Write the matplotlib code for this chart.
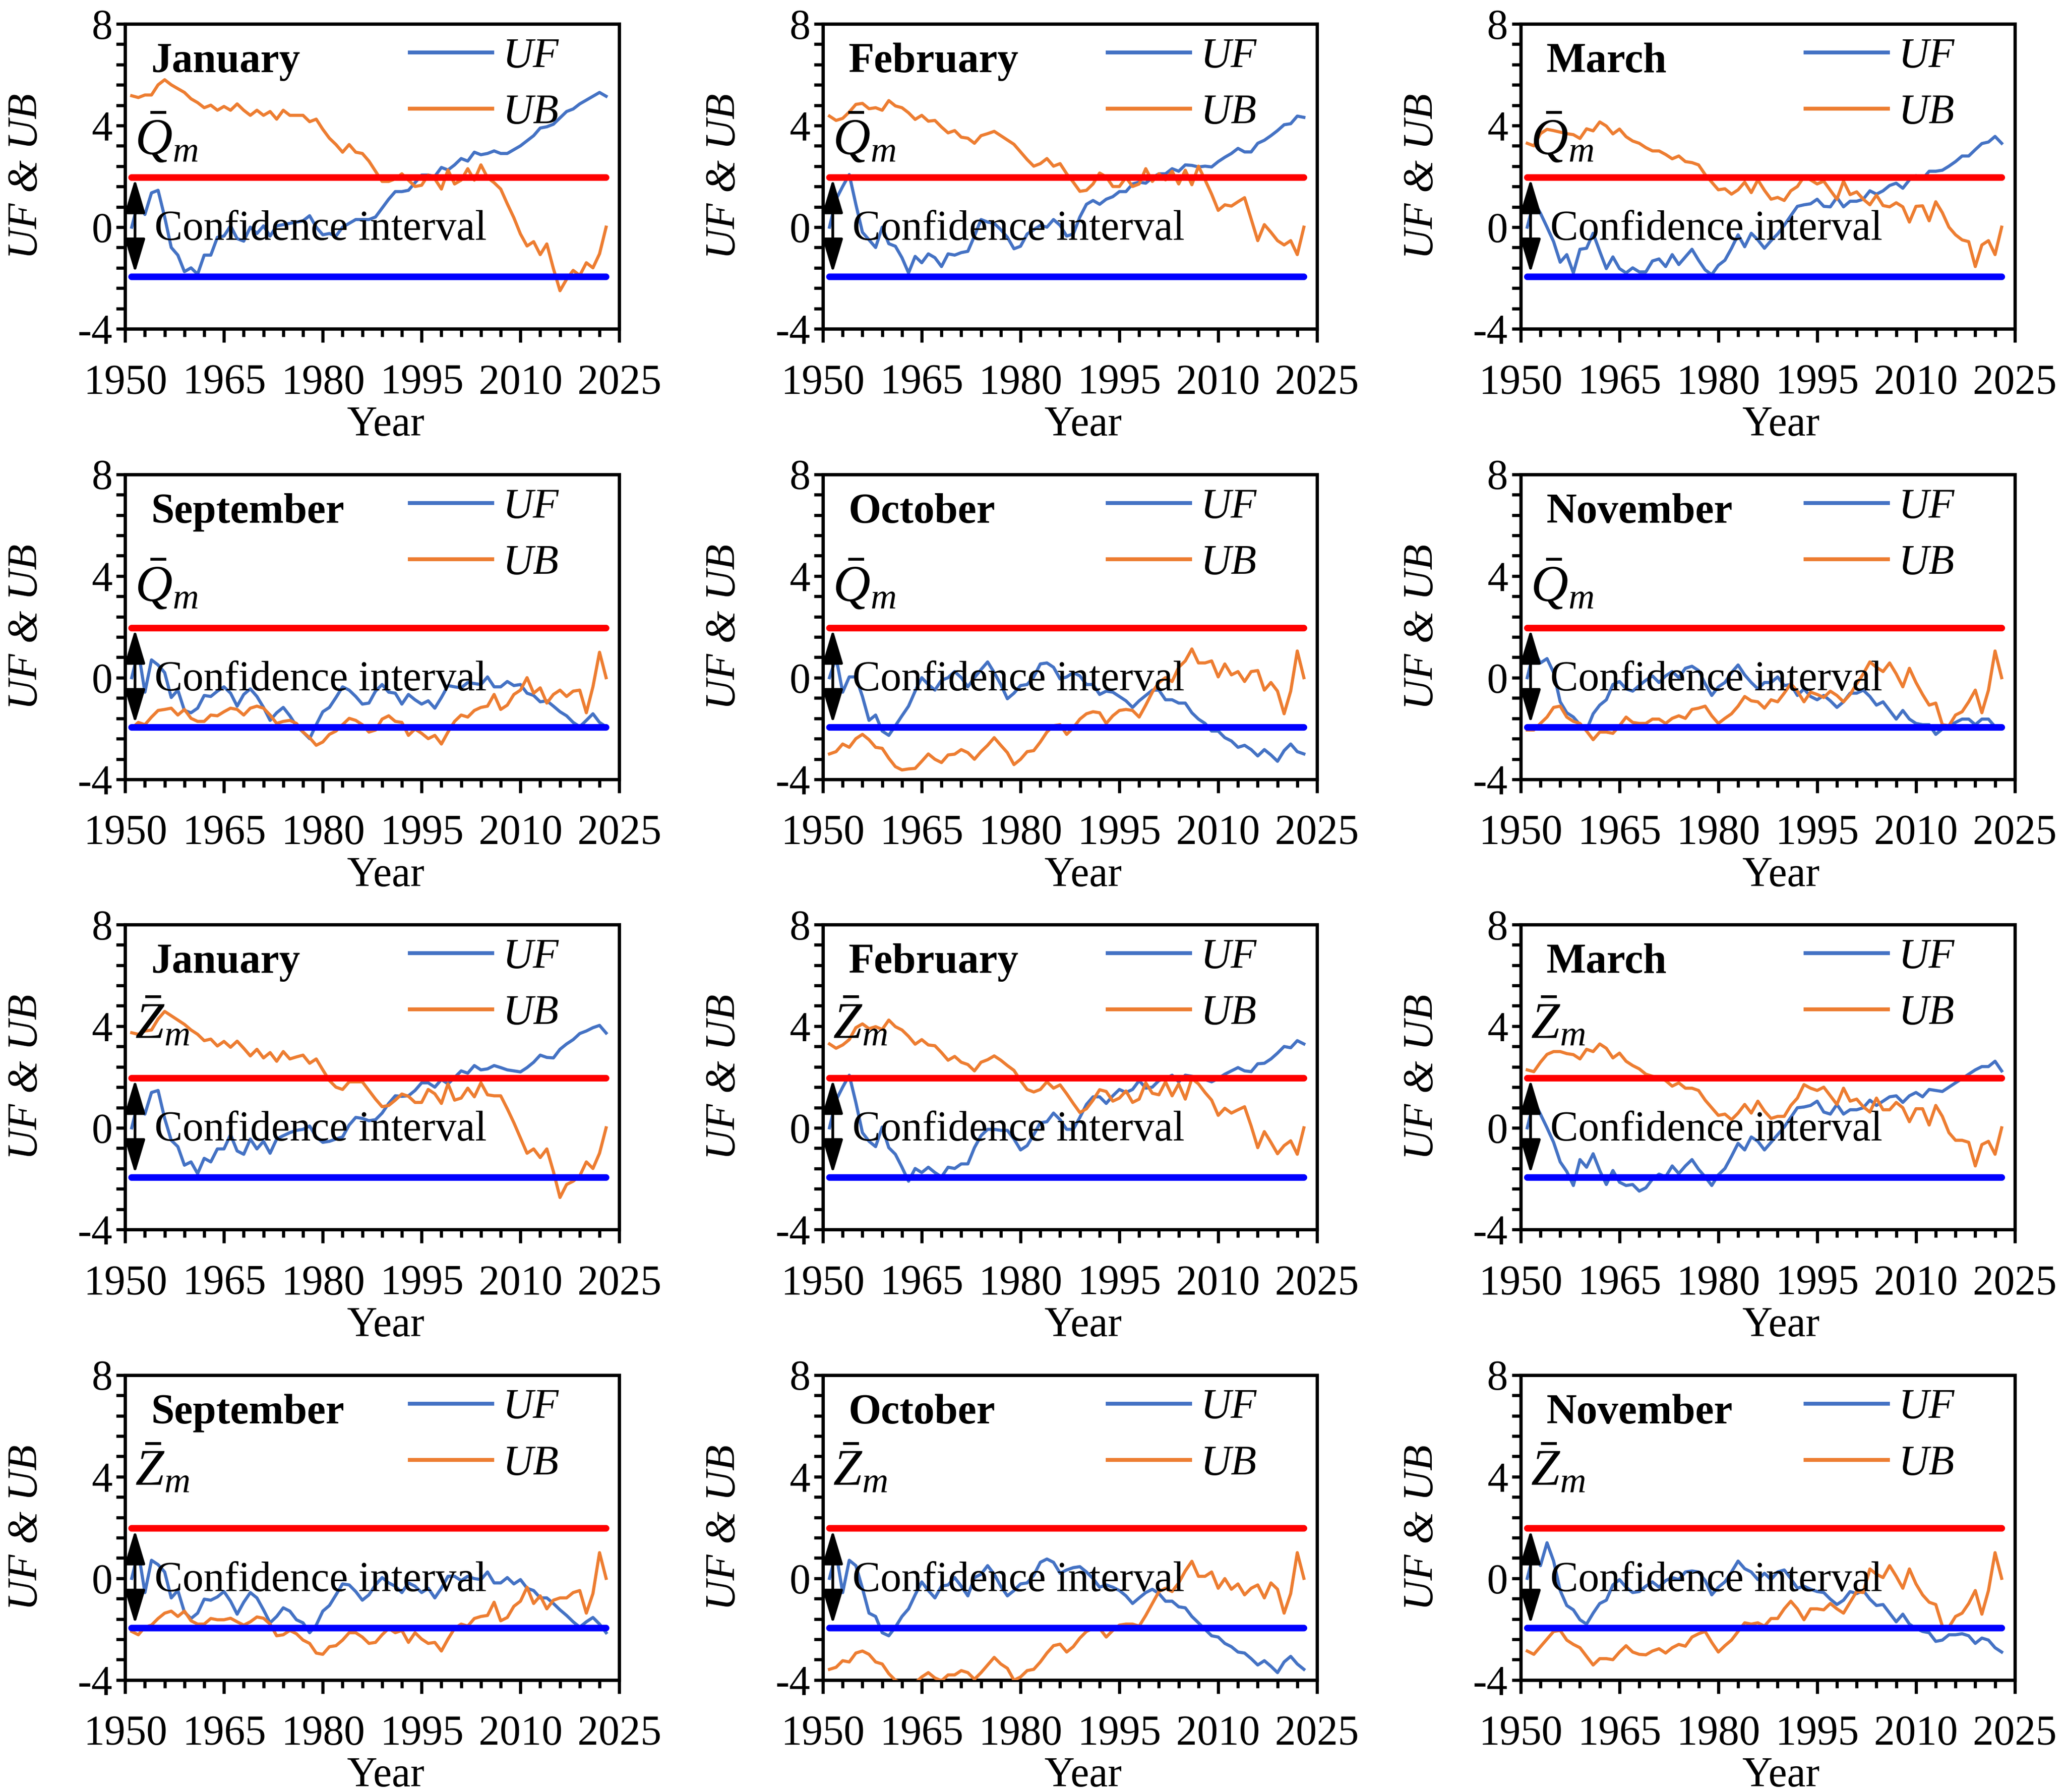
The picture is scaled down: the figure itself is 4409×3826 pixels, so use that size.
import matplotlib.pyplot as plt
from matplotlib.ticker import MultipleLocator
import numpy as np

plt.rcParams['font.family'] = ['Liberation Serif', 'DejaVu Serif']
plt.rcParams['mathtext.fontset'] = 'custom'
plt.rcParams['mathtext.rm'] = 'Liberation Serif'
plt.rcParams['mathtext.it'] = 'Liberation Serif:italic'
plt.rcParams['axes.unicode_minus'] = False

# Mann-Kendall sequential statistics, 1951-2023
jan_q_uf = [0, 1.0, 0.5, 1.35, 1.45, 0.4, -0.8, -1.1, -1.75, -1.6,
            -1.85, -1.1, -1.1, -0.4, -0.35, 0.05, -0.45, -0.55, 0, -0.25,
            0.05, -0.35, 0.05, 0.1, 0.15, 0.2, 0.25, 0.45, 0, -0.3,
            -0.25, -0.35, 0, 0.15, 0.3, 0.3, 0.3, 0.4, 0.75, 1.1,
            1.4, 1.4, 1.45, 1.75, 2.05, 2.05, 2.0, 2.35, 2.25, 2.45,
            2.7, 2.6, 2.95, 2.85, 2.9, 3.0, 2.9, 2.9, 3.05, 3.2,
            3.4, 3.6, 3.9, 3.95, 4.05, 4.3, 4.55, 4.65, 4.85, 5.0,
            5.15, 5.3, 5.15]
jan_q_ub = [5.17, 5.1, 5.2, 5.2, 5.6, 5.8, 5.6, 5.45, 5.3, 5.05,
            4.9, 4.7, 4.8, 4.6, 4.75, 4.6, 4.85, 4.6, 4.4, 4.6,
            4.4, 4.55, 4.25, 4.6, 4.4, 4.4, 4.4, 4.15, 4.25, 3.85,
            3.5, 3.25, 2.95, 3.25, 2.95, 2.9, 2.6, 2.2, 1.8, 1.8,
            1.9, 2.1, 1.85, 1.6, 1.65, 2.05, 1.9, 1.5, 2.25, 1.7,
            1.85, 2.3, 1.85, 2.45, 1.95, 1.75, 1.5, 0.92, 0.37, -0.27,
            -0.74, -0.57, -1.08, -0.66, -1.63, -2.5, -2.05, -1.7, -1.9, -1.4,
            -1.6, -1.05, 0]
feb_q_uf = [0, 1.1, 1.6, 2.07, 0.9, -0.2, -0.5, -0.8, 0, -0.65,
            -0.75, -1.2, -1.8, -1.15, -1.4, -1.05, -1.2, -1.55, -1.05, -1.1,
            -1.0, -0.95, -0.35, 0.3, 0.2, 0.15, -0.1, -0.4, -0.85, -0.75,
            -0.27, -0.1, 0.07, 0, 0.3, 0.07, -0.35, -0.27, 0.4, 0.9,
            1.05, 0.9, 1.1, 1.2, 1.4, 1.4, 1.7, 1.77, 1.73, 1.95,
            2.1, 2.1, 2.3, 2.2, 2.45, 2.43, 2.37, 2.4, 2.37, 2.58,
            2.75, 2.9, 3.1, 2.96, 2.96, 3.3, 3.42, 3.6, 3.8, 4.03,
            4.07, 4.37, 4.32]
feb_q_ub = [4.37, 4.2, 4.28, 4.53, 4.83, 4.87, 4.66, 4.7, 4.6, 4.98,
            4.77, 4.7, 4.5, 4.24, 4.4, 4.17, 4.2, 3.94, 3.71, 3.8,
            3.54, 3.5, 3.3, 3.6, 3.68, 3.77, 3.6, 3.43, 3.26, 2.96,
            2.66, 2.4, 2.5, 2.7, 2.4, 2.5, 2.1, 1.77, 1.41, 1.45,
            1.7, 2.13, 1.98, 1.6, 1.6, 1.96, 1.6, 1.7, 2.3, 1.8,
            2.1, 1.86, 2.2, 1.7, 2.24, 1.67, 2.4, 1.86, 1.3, 0.66,
            0.88, 0.83, 1.0, 1.16, 0.32, -0.53, 0.1, -0.2, -0.53, -0.7,
            -0.53, -1.08, 0]
mar_q_uf = [0, 1.0, 0.55, 0, -0.57, -1.38, -1.08, -1.8, -0.87, -0.83,
            -0.24, -0.95, -1.63, -1.17, -1.63, -1.8, -1.6, -1.76, -1.76, -1.33,
            -1.25, -1.55, -1.08, -1.47, -1.17, -0.87, -1.3, -1.68, -1.87, -1.5,
            -1.3, -0.83, -0.3, -0.77, -0.24, -0.5, -0.83, -0.53, -0.27, 0.07,
            0.45, 0.82, 0.88, 0.92, 1.1, 0.82, 0.8, 1.17, 0.8, 1.02,
            1.02, 1.1, 1.43, 1.3, 1.43, 1.64, 1.73, 1.53, 1.86, 2.03,
            1.9, 2.2, 2.2, 2.24, 2.4, 2.58, 2.8, 2.8, 3.05, 3.29,
            3.35, 3.57, 3.3]
mar_q_ub = [3.3, 3.2, 3.68, 3.85, 3.8, 3.74, 3.68, 3.64, 3.49, 3.87,
            3.79, 4.14, 3.98, 3.67, 3.86, 3.56, 3.39, 3.3, 3.13, 3.0,
            3.0, 2.86, 2.69, 2.8, 2.58, 2.54, 2.45, 2.07, 1.77, 1.47,
            1.51, 1.3, 1.47, 1.77, 1.36, 1.86, 1.45, 1.1, 1.17, 1.05,
            1.43, 1.6, 1.98, 1.86, 1.7, 1.81, 1.45, 1.1, 1.81, 1.28,
            1.39, 1.1, 0.88, 1.26, 0.85, 0.8, 0.96, 0.8, 0.2, 0.82,
            0.84, 0.25, 1.0, 0.57, 0, -0.3, -0.5, -0.57, -1.55, -0.7,
            -0.53, -1.08, 0]
sep_q_uf = [0, 1.05, -0.57, 0.7, 0.5, 0.2, -0.78, -0.49, -1.29, -1.38,
            -1.2, -0.7, -0.74, -0.53, -0.36, -0.61, -1.12, -0.66, -0.44, -0.74,
            -1.17, -1.68, -1.38, -1.17, -1.5, -1.9, -2.14, -2.4, -1.85, -1.34,
            -1.17, -0.78, -0.36, -0.49, -0.74, -1.04, -1.0, -0.53, -0.27, -0.57,
            -0.61, -1.04, -0.66, -0.87, -1.04, -0.91, -1.2, -0.78, -0.31, -0.36,
            -0.4, -0.19, -0.23, -0.27, 0.03, -0.36, -0.36, -0.15, -0.31, -0.27,
            -0.61, -0.7, -0.95, -0.91, -1.12, -1.34, -1.5, -1.76, -1.93, -1.68,
            -1.42, -1.76, -1.93]
sep_q_ub = [-2.0, -1.76, -1.85, -1.55, -1.29, -1.25, -1.2, -1.47, -1.25, -1.6,
            -1.72, -1.72, -1.47, -1.5, -1.34, -1.2, -1.25, -1.47, -1.2, -1.12,
            -1.2, -1.47, -1.8, -1.72, -1.68, -1.8, -2.14, -2.36, -2.66, -2.53,
            -2.23, -2.1, -1.85, -1.6, -1.68, -1.85, -2.14, -2.06, -1.63, -1.5,
            -1.72, -1.76, -2.27, -2.02, -2.19, -2.4, -2.27, -2.61, -2.14, -1.72,
            -1.47, -1.55, -1.29, -1.17, -1.12, -0.66, -1.25, -1.08, -0.66, -0.49,
            0, -0.61, -0.4, -1.0, -0.66, -0.49, -0.74, -0.53, -0.49, -1.38,
            -0.36, 1.0, 0]
oct_q_uf = [0, 0.8, -0.57, 0.03, 0.03, -0.74, -1.68, -1.47, -2.1, -2.27,
            -1.89, -1.5, -1.12, -0.53, 0, -0.27, -0.49, -0.1, 0, 0.24,
            0, -0.36, 0, 0.32, 0.62, 0.2, -0.27, -0.83, -0.61, -0.31,
            -0.27, 0.03, 0.54, 0.58, 0.41, -0.05, 0.03, 0.2, 0.07, -0.27,
            -0.27, -0.66, -0.53, -0.57, -0.74, -0.91, -1.17, -0.91, -0.7, -0.49,
            -0.49, -0.87, -0.87, -1.0, -1.0, -1.38, -1.63, -1.8, -2.1, -2.1,
            -2.36, -2.49, -2.74, -2.66, -2.83, -3.08, -2.83, -3.04, -3.29, -2.87,
            -2.61, -2.91, -3.0]
oct_q_ub = [-3.0, -2.91, -2.61, -2.74, -2.4, -2.23, -2.44, -2.74, -2.78, -3.17,
            -3.5, -3.63, -3.59, -3.57, -3.29, -3.0, -3.21, -3.34, -3.04, -3.01,
            -2.83, -2.95, -3.21, -2.91, -2.66, -2.36, -2.66, -2.95, -3.42, -3.21,
            -2.91, -2.87, -2.53, -2.14, -1.89, -1.85, -2.23, -1.97, -1.63, -1.42,
            -1.34, -1.38, -1.8, -1.5, -1.29, -1.25, -1.29, -1.55, -1.08, -0.57,
            -0.19, 0, -0.15, 0.41, 0.66, 1.13, 0.58, 0.58, 0.66, 0.03,
            0.54, 0.11, 0.24, -0.15, 0.24, 0.28, -0.49, -0.19, -0.53, -1.42,
            -0.53, 1.05, 0]
nov_q_uf = [0, 1.05, 0.58, 0.75, 0.2, -0.95, -1.38, -1.55, -1.85, -2.06,
            -1.42, -1.08, -0.87, -0.27, -0.15, -0.44, -0.53, -0.31, -0.1, 0.07,
            -0.19, 0.07, 0.24, 0, 0.37, 0.45, 0.28, -0.24, -0.7, -0.36,
            -0.19, 0.2, 0.5, 0.11, -0.19, -0.44, -0.19, -0.19, 0.03, -0.31,
            -0.27, -0.7, -0.44, -0.74, -0.87, -0.7, -0.91, -1.17, -0.95, -0.61,
            -0.61, -0.49, -0.74, -1.08, -0.95, -1.29, -1.63, -1.29, -1.63, -1.8,
            -1.85, -1.85, -2.23, -2.02, -1.89, -1.76, -1.63, -1.63, -1.85, -1.63,
            -1.63, -1.93, -1.97]
nov_q_ub = [-2.06, -2.06, -1.8, -1.55, -1.17, -1.12, -1.55, -1.72, -1.8, -2.1,
            -2.44, -2.14, -2.14, -2.19, -1.89, -1.55, -1.76, -1.8, -1.8, -1.63,
            -1.63, -1.8, -1.6, -1.5, -1.6, -1.25, -1.2, -1.12, -1.5, -1.8,
            -1.6, -1.42, -1.12, -0.74, -0.91, -0.95, -1.2, -0.87, -0.95, -0.61,
            -0.24, -0.53, -0.95, -0.57, -0.66, -0.78, -0.53, -0.7, -0.95, -0.66,
            -0.24, 0.15, 0.62, 0.41, 0.24, 0.58, 0.15, -0.36, 0.37, -0.19,
            -0.66, -1.08, -1.0, -1.85, -1.89, -1.47, -1.34, -0.95, -0.49, -1.38,
            -0.49, 1.05, 0]
jan_z_uf = [0, 1.05, 0.54, 1.39, 1.47, 0.37, -0.49, -0.74, -1.47, -1.34,
            -1.8, -1.2, -1.34, -0.83, -0.83, -0.27, -0.91, -1.04, -0.44, -0.83,
            -0.53, -1.0, -0.44, -0.31, -0.19, -0.1, -0.06, 0.07, -0.36, -0.57,
            -0.53, -0.44, -0.36, 0.11, 0.41, 0.37, 0.28, 0.32, 0.58, 0.96,
            1.26, 1.24, 1.26, 1.47, 1.77, 1.77, 1.6, 1.9, 1.73, 1.98,
            2.24, 2.15, 2.45, 2.28, 2.32, 2.45, 2.37, 2.28, 2.24, 2.2,
            2.37, 2.58, 2.86, 2.77, 2.75, 3.09, 3.3, 3.47, 3.71, 3.81,
            3.94, 4.03, 3.73]
jan_z_ub = [3.74, 3.68, 3.81, 3.85, 4.28, 4.58, 4.41, 4.24, 4.07, 3.85,
            3.68, 3.43, 3.49, 3.22, 3.4, 3.17, 3.41, 3.13, 2.83, 3.09,
            2.75, 2.96, 2.62, 3.0, 2.71, 2.79, 2.86, 2.54, 2.71, 2.28,
            1.86, 1.6, 1.51, 1.81, 1.81, 1.81, 1.47, 1.13, 0.83, 0.88,
            1.09, 1.33, 1.24, 1.0, 1.0, 1.51, 1.34, 0.96, 1.73, 1.09,
            1.17, 1.56, 1.22, 1.77, 1.3, 1.26, 1.26, 0.75, 0.2, -0.4,
            -1.0, -0.83, -1.17, -0.83, -1.72, -2.74, -2.23, -2.1, -1.89, -1.34,
            -1.6, -1.0, 0]
feb_z_uf = [0, 1.09, 1.6, 2.07, 1.0, -0.19, -0.53, -0.74, 0.03, -0.78,
            -1.04, -1.55, -2.1, -1.6, -1.76, -1.55, -1.76, -1.93, -1.55, -1.6,
            -1.42, -1.42, -0.78, -0.31, -0.06, -0.06, -0.1, -0.1, -0.44, -0.87,
            -0.7, -0.27, 0.2, 0.24, 0.58, 0.32, -0.06, -0.06, 0.41, 0.92,
            1.22, 1.22, 0.96, 1.26, 1.51, 1.39, 1.51, 1.86, 1.56, 1.6,
            1.86, 1.94, 2.07, 1.81, 2.07, 2.03, 1.98, 1.9, 1.81, 1.94,
            2.11, 2.24, 2.37, 2.24, 2.21, 2.52, 2.54, 2.71, 2.94, 3.2,
            3.15, 3.43, 3.3]
feb_z_ub = [3.3, 3.13, 3.26, 3.47, 3.94, 4.09, 3.9, 3.98, 3.87, 4.24,
            3.98, 3.85, 3.6, 3.29, 3.47, 3.26, 3.23, 2.96, 2.66, 2.81,
            2.58, 2.49, 2.24, 2.58, 2.68, 2.83, 2.66, 2.45, 2.26, 1.86,
            1.51, 1.41, 1.51, 1.81, 1.56, 1.69, 1.34, 0.96, 0.6, 0.75,
            1.09, 1.5, 1.43, 1.05, 1.17, 1.45, 1.0, 1.13, 1.77, 1.36,
            1.3, 1.81, 1.26, 1.73, 1.13, 1.94, 1.73, 1.39, 1.09, 0.49,
            0.77, 0.58, 0.71, 0.83, 0.07, -0.78, -0.15, -0.57, -1.02, -0.7,
            -0.51, -1.04, 0]
mar_z_uf = [0, 1.05, 0.54, 0, -0.57, -1.34, -1.72, -2.27, -1.25, -1.55,
            -1.02, -1.68, -2.23, -1.68, -2.14, -2.27, -2.23, -2.49, -2.36, -2.02,
            -1.82, -1.93, -1.5, -1.8, -1.5, -1.25, -1.63, -1.93, -2.27, -1.85,
            -1.6, -1.12, -0.61, -0.87, -0.36, -0.53, -0.87, -0.57, -0.27, 0.03,
            0.41, 0.79, 0.82, 0.88, 1.05, 0.62, 0.54, 0.92, 0.54, 0.71,
            0.71, 0.79, 1.09, 0.88, 1.05, 1.22, 1.26, 1.0, 1.26, 1.39,
            1.22, 1.51, 1.47, 1.43, 1.6, 1.77, 1.94, 2.11, 2.28, 2.41,
            2.41, 2.62, 2.24]
mar_z_ub = [2.28, 2.21, 2.58, 2.89, 3.0, 3.0, 2.92, 2.88, 2.71, 3.09,
            3.0, 3.3, 3.13, 2.75, 2.94, 2.62, 2.45, 2.32, 2.11, 2.03,
            1.98, 1.86, 1.64, 1.77, 1.56, 1.56, 1.47, 1.09, 0.79, 0.49,
            0.54, 0.32, 0.58, 0.92, 0.58, 1.05, 0.66, 0.37, 0.45, 0.45,
            0.88, 1.17, 1.7, 1.56, 1.47, 1.6, 1.26, 0.92, 1.56, 1.05,
            1.13, 0.83, 0.62, 1.17, 0.71, 0.71, 1.0, 0.79, 0.24, 0.75,
            0.75, 0.11, 0.88, 0.45, -0.19, -0.49, -0.49, -0.57, -1.5, -0.66,
            -0.53, -1.04, 0]
sep_z_uf = [0, 1.05, -0.56, 0.71, 0.54, 0.25, -0.77, -0.48, -1.33, -1.58,
            -1.37, -0.82, -0.86, -0.73, -0.52, -0.9, -1.41, -0.94, -0.56, -0.77,
            -1.24, -1.75, -1.5, -1.16, -1.29, -1.63, -1.75, -2.14, -1.84, -1.29,
            -1.07, -0.65, -0.22, -0.26, -0.52, -0.86, -0.65, -0.26, 0.03, -0.18,
            -0.31, -0.56, -0.18, -0.31, -0.56, -0.39, -0.77, -0.39, 0.08, 0.08,
            -0.09, 0.08, -0.01, -0.05, 0.25, -0.18, -0.18, 0.03, -0.22, -0.05,
            -0.39, -0.48, -0.77, -0.77, -0.99, -1.24, -1.46, -1.71, -1.92, -1.71,
            -1.54, -1.8, -2.14]
sep_z_ub = [-2.09, -2.22, -1.92, -1.84, -1.58, -1.37, -1.29, -1.5, -1.29, -1.67,
            -1.8, -1.8, -1.58, -1.63, -1.63, -1.57, -1.71, -1.84, -1.71, -1.52,
            -1.57, -1.8, -2.26, -2.22, -2.05, -2.18, -2.43, -2.56, -2.94, -2.99,
            -2.69, -2.65, -2.43, -2.14, -2.14, -2.31, -2.56, -2.52, -2.22, -1.97,
            -2.14, -2.05, -2.52, -2.14, -2.39, -2.56, -2.52, -2.86, -2.39, -1.97,
            -1.8, -1.88, -1.58, -1.5, -1.46, -0.94, -1.67, -1.54, -1.1, -0.9,
            -0.35, -0.99, -0.69, -1.2, -0.86, -0.77, -0.77, -0.56, -0.48, -1.37,
            -0.6, 1.01, 0]
oct_z_uf = [0, 1.01, -0.56, 0.71, 0.5, -0.39, -1.37, -1.5, -2.14, -2.26,
            -1.92, -1.5, -1.2, -0.65, -0.14, -0.48, -0.77, -0.31, -0.26, 0.03,
            -0.31, -0.69, 0.03, 0.16, 0.5, 0.16, -0.31, -0.69, -0.48, -0.22,
            -0.18, 0.12, 0.63, 0.76, 0.63, 0.2, 0.33, 0.42, 0.46, 0.25,
            -0.01, -0.35, -0.26, -0.35, -0.48, -0.69, -0.99, -0.77, -0.56, -0.43,
            -0.6, -0.9, -0.9, -1.12, -1.16, -1.5, -1.75, -2.01, -2.26, -2.31,
            -2.56, -2.69, -2.9, -2.94, -3.16, -3.41, -3.24, -3.46, -3.71, -3.29,
            -3.07, -3.37, -3.58]
oct_z_ub = [-3.58, -3.5, -3.24, -3.29, -2.94, -2.86, -2.99, -3.29, -3.37, -3.75,
            -4.01, -4.13, -4.13, -4.12, -3.88, -3.71, -3.92, -4.03, -3.8, -3.8,
            -3.63, -3.71, -3.97, -3.71, -3.41, -3.11, -3.37, -3.54, -4.01, -3.88,
            -3.63, -3.58, -3.29, -2.94, -2.65, -2.59, -2.9, -2.69, -2.35, -2.09,
            -1.97, -1.97, -2.31, -2.05, -1.84, -1.8, -1.8, -1.88, -1.46, -0.99,
            -0.52, -0.39, -0.52, -0.18, 0.29, 0.67, 0.08, 0.08, 0.25, -0.39,
            -0.01, -0.43, -0.22, -0.65, -0.39, -0.26, -0.77, -0.18, -0.43, -1.37,
            -0.6, 1.01, 0]
nov_z_uf = [0, 1.01, 0.5, 1.4, 0.68, -0.48, -1.07, -1.24, -1.63, -1.8,
            -1.37, -0.99, -0.86, -0.26, -0.05, -0.35, -0.56, -0.52, -0.31, -0.14,
            -0.35, -0.09, 0.03, -0.05, 0.25, 0.29, 0.25, -0.09, -0.65, -0.35,
            -0.14, 0.25, 0.68, 0.38, 0.25, -0.05, 0.2, -0.05, 0.25, 0.33,
            -0.01, -0.39, -0.31, -0.43, -0.52, -0.56, -0.82, -1.03, -0.86, -0.52,
            -0.6, -0.48, -0.82, -1.07, -1.03, -1.37, -1.71, -1.41, -1.8, -1.97,
            -2.09, -2.14, -2.48, -2.43, -2.22, -2.22, -2.18, -2.26, -2.56, -2.35,
            -2.43, -2.73, -2.9]
nov_z_ub = [-2.86, -2.99, -2.69, -2.39, -2.09, -2.05, -2.43, -2.6, -2.73, -3.07,
            -3.41, -3.16, -3.16, -3.2, -2.9, -2.65, -2.9, -2.99, -3.01, -2.86,
            -2.77, -2.94, -2.73, -2.6, -2.67, -2.31, -2.18, -2.09, -2.52, -2.9,
            -2.65, -2.43, -2.09, -1.75, -1.8, -1.75, -1.88, -1.58, -1.58, -1.2,
            -0.9, -1.2, -1.63, -1.2, -1.2, -1.24, -0.99, -1.2, -1.37, -0.94,
            -0.52, -0.56, 0.37, 0.16, 0.03, 0.5, 0.08, -0.39, 0.37, -0.22,
            -0.65, -0.94, -1.03, -1.88, -1.92, -1.5, -1.37, -0.99, -0.48, -1.41,
            -0.48, 1.01, 0]

months = ['January', 'February', 'March', 'September', 'October', 'November',
          'January', 'February', 'March', 'September', 'October', 'November']
variables = [r'$\bar{Q}_m$'] * 6 + [r'$\bar{Z}_m$'] * 6
var_y = [2.85, 2.85, 2.85, 3.0, 3.0, 3.0, 3.5, 3.5, 3.5, 3.65, 3.65, 3.65]
uf_series = [jan_q_uf, feb_q_uf, mar_q_uf, sep_q_uf, oct_q_uf, nov_q_uf,
             jan_z_uf, feb_z_uf, mar_z_uf, sep_z_uf, oct_z_uf, nov_z_uf]
ub_series = [jan_q_ub, feb_q_ub, mar_q_ub, sep_q_ub, oct_q_ub, nov_q_ub,
             jan_z_ub, feb_z_ub, mar_z_ub, sep_z_ub, oct_z_ub, nov_z_ub]
crit = 1.96

uf_color = '#4472C4'
ub_color = '#ED7D31'
fs = 21.5

fig = plt.figure(figsize=(4409 / 300, 3826 / 300), dpi=300)
lefts = [0.0606, 0.3985, 0.7364]
bottoms = [0.8165, 0.5651, 0.3139, 0.0625]
w, h = 0.2393, 0.1702

for i in range(12):
    ax = fig.add_axes([lefts[i % 3], bottoms[i // 3], w, h])
    uf = uf_series[i]
    ub = ub_series[i]
    years = np.arange(1951, 1951 + len(uf))

    l1, = ax.plot(years, uf, color=uf_color, lw=1.6, zorder=3)
    l2, = ax.plot(years, ub, color=ub_color, lw=1.6, zorder=3)
    ax.plot(years, np.full(len(years), crit), color='#FF0000', lw=3.4,
            solid_capstyle='round', zorder=4)
    ax.plot(years, np.full(len(years), -crit), color='#0000FF', lw=3.4,
            solid_capstyle='round', zorder=4)

    ax.annotate('', xy=(1951.5, 1.9), xytext=(1951.5, -1.8),
                arrowprops=dict(arrowstyle='<|-|>,head_length=0.5,head_width=0.15',
                                color='black', lw=1.4, mutation_scale=30,
                                shrinkA=0, shrinkB=0), zorder=5)
    ax.text(1954.5, -0.5, 'Confidence interval', fontsize=fs, zorder=6)
    ax.text(1953.9, 6.1, months[i], fontsize=fs, fontweight='bold', zorder=6)
    ax.text(1951.5, var_y[i], variables[i], fontsize=26.5, zorder=6)

    leg = ax.legend([l1, l2], ['UF', 'UB'], loc='upper left',
                    bbox_to_anchor=(0.576, 0.955), frameon=False,
                    borderpad=0, borderaxespad=0, handlelength=1.97,
                    handletextpad=0.25, labelspacing=0.42,
                    prop={'size': fs, 'style': 'italic'})
    for line in leg.get_lines():
        line.set_linewidth(2.0)

    ax.set_xlim(1950, 2025)
    ax.set_ylim(-4, 8)
    ax.xaxis.set_major_locator(MultipleLocator(15))
    ax.xaxis.set_minor_locator(MultipleLocator(3))
    ax.yaxis.set_major_locator(MultipleLocator(4))
    ax.yaxis.set_minor_locator(MultipleLocator(0.8))
    ax.tick_params(axis='x', which='major', direction='out', length=7,
                   width=1.6, labelsize=fs, pad=11)
    ax.tick_params(axis='x', which='minor', direction='out', length=4, width=1.6)
    ax.tick_params(axis='y', which='both', direction='out', length=4.5,
                   width=1.6, labelsize=fs, pad=2)
    for sp in ax.spines.values():
        sp.set_linewidth(1.7)

    ax.set_xlabel('Year', fontsize=fs)
    ax.xaxis.set_label_coords(0.527, -0.252)
    ax.set_ylabel('UF & UB', fontsize=fs, fontstyle='italic')
    ax.yaxis.set_label_coords(-0.16, 0.5)

fig.savefig('out.png', dpi=300)
